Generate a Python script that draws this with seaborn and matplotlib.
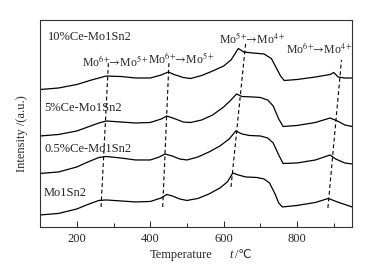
import numpy as np
import pandas as pd
import matplotlib
matplotlib.use("Agg")
import matplotlib.pyplot as plt
from matplotlib.ticker import MultipleLocator
import seaborn as sns

## Données (intensité en unités arbitraires, courbes décalées)

t_mo1sn2 = [100, 150, 200, 230, 260, 280, 320, 360, 400, 430, 445, 460, 480, 500, 530,
            560, 590, 610, 625, 640, 660, 690, 710, 725, 740, 750, 760, 800, 850, 885, 910, 950]
i_mo1sn2 = [12, 13.5, 18, 22.5, 26.5, 27, 26, 25, 25.5, 29, 32.5, 31, 28, 26.5, 28.5,
            33, 39, 45, 54, 52, 50, 49.5, 48, 44, 33, 24, 20, 21.5, 24.5, 28.5, 25, 20]

t_ce05 = [100, 150, 200, 230, 260, 280, 320, 360, 400, 425, 440, 460, 480, 500, 530,
          560, 590, 615, 633, 650, 670, 700, 720, 735, 750, 762, 800, 850, 890, 905, 930, 950]
i_ce05 = [53.5, 55, 60, 65, 69.5, 70.5, 69, 67, 67, 70, 73, 71, 68, 67, 70,
          75, 81, 88, 96, 93, 91.5, 91, 89, 84, 72, 63.5, 64, 67, 72, 68, 64, 63]

t_ce5 = [100, 150, 200, 230, 260, 280, 320, 360, 400, 430, 445, 465, 490, 510, 540,
         570, 600, 620, 635, 650, 680, 700, 720, 735, 750, 762, 800, 850, 890, 910, 930, 950]
i_ce5 = [91, 92.5, 96, 100, 104, 106, 105, 104, 104.5, 108, 111, 108.5, 105, 104.5, 107,
         112, 120, 127, 133, 130.5, 130, 129.5, 127, 121, 108, 100.5, 101.5, 104.5, 109, 106, 102, 100.5]

t_ce10 = [100, 150, 200, 240, 280, 320, 360, 400, 430, 449, 465, 490, 510, 540, 570,
          600, 620, 640, 655, 680, 710, 730, 745, 755, 765, 800, 850, 890, 900, 912, 930, 950]
i_ce10 = [137.5, 139, 142.5, 147, 151, 150.5, 149, 149, 152, 155, 152.5, 149.5, 148.5, 151.5, 156,
          161, 167, 178.5, 175, 174, 173, 168.5, 158, 151, 146.5, 147.5, 150, 152.5, 154.5, 150, 149, 149]

echantillons = ["Mo1Sn2", "0.5%Ce-Mo1Sn2", "5%Ce-Mo1Sn2", "10%Ce-Mo1Sn2"]
label_t = [111, 111, 111, 122]
label_y = [34, 78, 119, 190]

# Droites pointillées (déplacement des pics)
pic_t = [[266, 286], [434, 451], [620, 660], [884, 921]]
pic_i = [[20, 164], [20, 165], [40, 184], [19, 167]]

fleche = r"\!\!\!\rightarrow\!"
annot_txt = ["Mo$^{6+}" + fleche + "$Mo$^{5+}$", "Mo$^{6+}" + fleche + "$Mo$^{5+}$",
             "Mo$^{5+}" + fleche + "$Mo$^{4+}$", "Mo$^{6+}" + fleche + "$Mo$^{4+}$"]
annot_t = [305, 485, 679, 862]
annot_i = [166, 169, 189, 179]

## Mise en forme

df = pd.concat([
    pd.DataFrame({"T": t_mo1sn2, "I": i_mo1sn2, "ech": echantillons[0]}),
    pd.DataFrame({"T": t_ce05, "I": i_ce05, "ech": echantillons[1]}),
    pd.DataFrame({"T": t_ce5, "I": i_ce5, "ech": echantillons[2]}),
    pd.DataFrame({"T": t_ce10, "I": i_ce10, "ech": echantillons[3]}),
])

sns.set_style("ticks")
plt.rcParams["font.family"] = ["Liberation Serif", "DejaVu Serif", "DejaVu Sans"]
plt.rcParams["mathtext.fontset"] = "stix"

fig = plt.figure(figsize=(3.75, 2.67), dpi=100)
ax = fig.add_axes([0.107, 0.150, 0.832, 0.775])

for ech in echantillons:
    sub = df[df["ech"] == ech]
    sns.lineplot(data=sub, x="T", y="I", color="black", lw=0.9, ax=ax,
                 estimator=None, sort=False)

for tt, ii in zip(pic_t, pic_i):
    ax.plot(tt, ii, color="black", lw=0.8, ls=(0, (3.5, 2.5)))

for ech, tx, y in zip(echantillons, label_t, label_y):
    ax.text(tx, y, ech, fontsize=9, ha="left", va="center")

for txt, tx, ty in zip(annot_txt, annot_t, annot_i):
    ax.text(tx, ty, txt, fontsize=8.5, ha="center", va="center")

ax.set_xlim(100, 950)
ax.set_ylim(0, 207)
ax.xaxis.set_major_locator(MultipleLocator(200))
ax.xaxis.set_minor_locator(MultipleLocator(100))
ax.tick_params(axis="x", which="major", direction="in", length=4, width=0.7,
               labelsize=9, pad=4)
ax.tick_params(axis="x", which="minor", direction="in", length=3, width=0.7)
ax.set_yticks([])
for s in ax.spines.values():
    s.set_linewidth(0.8)
    s.set_color("#333333")

# titre de l'axe x en trois morceaux (le symbole ℃ vient de DejaVu Sans)
ax.set_xlabel("")
fig.text(150 / 375, 1 - 255 / 267, "Temperature", fontsize=9, ha="left", va="center")
fig.text(229 / 375, 1 - 255 / 267, "t", fontsize=9, style="italic", ha="left", va="center")
fig.text(235 / 375, 1 - 255 / 267, "/\u2103", fontsize=8.5, ha="left", va="center",
         family=["Liberation Serif", "DejaVu Sans"])

ax.set_ylabel("Intensity /(a.u.)", fontsize=9)
ax.yaxis.set_label_coords(-0.04, 0.45)

fig.savefig("out.png", dpi=100)
